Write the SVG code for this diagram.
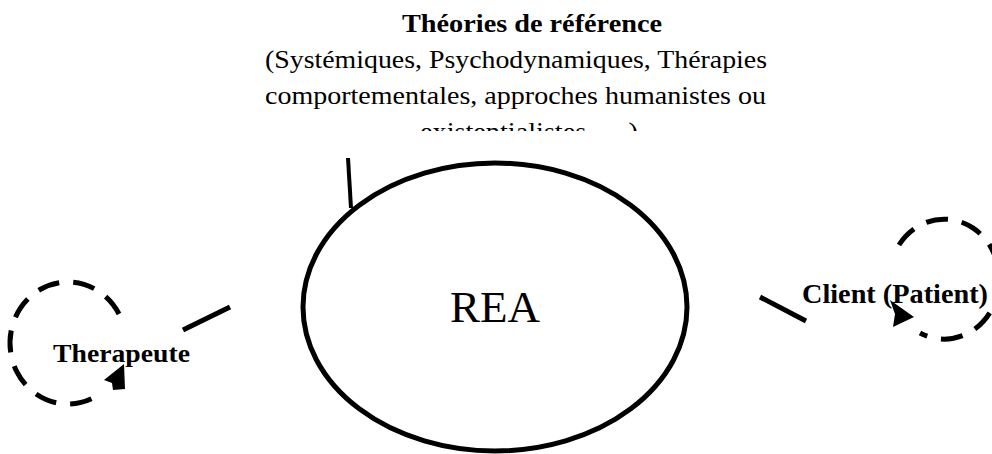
<svg xmlns="http://www.w3.org/2000/svg" width="992" height="454" viewBox="0 0 992 454">
  <style>
    .t { font-family: "Liberation Serif", "DejaVu Serif", serif; fill: #000; }
    .b { font-weight: bold; }
    .solid { stroke: #000; stroke-width: 5; fill: none; }
    .dash { stroke: #000; stroke-width: 5; fill: none; stroke-dasharray: 22 14; }
    .head { fill: #000; stroke: none; }
  </style>
  <defs>
    <clipPath id="clipTitle">
      <rect x="0" y="0" width="992" height="131"/>
    </clipPath>
  </defs>
  <rect width="992" height="454" fill="#fff"/>

  <g id="node-theories" clip-path="url(#clipTitle)">
    <text class="t b" x="402" y="32" font-size="26" textLength="260" lengthAdjust="spacingAndGlyphs">Théories de référence</text>
    <text class="t" x="265" y="68" font-size="26" textLength="502" lengthAdjust="spacingAndGlyphs">(Systémiques, Psychodynamiques, Thérapies</text>
    <text class="t" x="265" y="104" font-size="26" textLength="501" lengthAdjust="spacingAndGlyphs">comportementales, approches humanistes ou</text>
    <text class="t" x="420" y="140" font-size="26" textLength="218" lengthAdjust="spacingAndGlyphs">existentialistes, …)</text>
  </g>

  <g id="connectors">
    <line class="solid" x1="348" y1="158" x2="351" y2="208" style="stroke-width:4"/>
    <line class="solid" x1="183" y1="330" x2="230" y2="307"/>
    <line class="solid" x1="760" y1="297" x2="806" y2="321"/>
    <path class="dash" d="M 119 314 A 58 61 0 1 0 95 397"/>
    <polygon class="head" points="124,364 104,380 112,383 113,390 125,389"/>
    <path class="dash" d="M 899 245 A 55 60 0 1 1 920 333"/>
    <polygon class="head" points="890,300 914,317 893,327 895,314"/>
  </g>

  <g id="node-rea">
    <ellipse cx="495" cy="307" rx="192" ry="144" fill="#fff" stroke="#000" stroke-width="5"/>
    <text class="t" x="495" y="322" font-size="45" text-anchor="middle">REA</text>
  </g>

  <g id="node-therapeute">
    <text class="t b" x="53" y="362" font-size="26" textLength="137" lengthAdjust="spacingAndGlyphs">Therapeute</text>
  </g>

  <g id="node-client">
    <text class="t b" x="802" y="303" font-size="27" textLength="186" lengthAdjust="spacingAndGlyphs">Client (Patient)</text>
  </g>
</svg>
